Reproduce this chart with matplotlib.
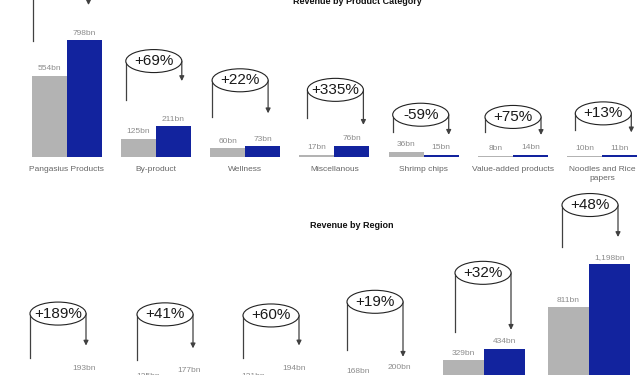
# Revenue by product category and by region, previous vs current year

import matplotlib.pyplot as plt
from matplotlib.patches import Ellipse

plt.rcParams['font.family'] = ['Liberation Sans', 'DejaVu Sans']

# Revenue by product category (bn)
categories = ['Pangasius Products', 'By-product', 'Wellness', 'Miscellanous',
              'Shrimp chips', 'Value-added products', 'Noodles and Rice\npapers']
prev_cat = [554, 125, 60, 17, 36, 8, 10]
curr_cat = [798, 211, 73, 76, 15, 14, 11]
change_cat = ['+44%', '+69%', '+22%', '+335%', '-59%', '+75%', '+13%']

# Revenue by region (bn), region names fall below the picture
prev_reg = [67, 125, 121, 168, 329, 811]
curr_reg = [193, 177, 194, 200, 434, 1198]
change_reg = ['+189%', '+41%', '+60%', '+19%', '+32%', '+48%']

GREY = '#b3b3b3'
BLUE = '#12239e'
LINE = '#404040'

W, H = 640, 375


# Pixel layout of each panel
top_panel = dict(base=157, ppb=0.1466, first=66.5, step=89.3, bar=35, top=0)
bottom_panel = dict(base=397, ppb=0.111, first=64, step=105, bar=41, top=215)

# Hand placed callouts (pixels): lift above taller bar, gaps above bars, x shift
top_notes = dict(lift=[60, 65, 66, 56, 37, 38, 42],
                 left_gap=[35, 39, 31, 37, 20, 24, 26],
                 arrow_gap=[35, 45, 33, 21, 20, 20, 23],
                 shift=[-6, -2, -5, 1, -3, 0, 1])
bottom_notes = dict(lift=[62, 63, 60, 73, 76, 59],
                    left_gap=[32, 23, 26, 28, 28, 60],
                    arrow_gap=[30, 29, 30, 18, 19, 27],
                    shift=[-6, -4, -3, -4, -1, 1])


def make_axes(fig, p):
    ax = fig.add_axes([0, (H - p['base']) / H, 1, (p['base'] - p['top']) / H])
    ax.set_xlim(-p['first'] / p['step'], (W - p['first']) / p['step'])
    ax.set_ylim(0, (p['base'] - p['top']) / p['ppb'])
    ax.axis('off')
    return ax


# Draws the paired bars, value labels and the change callouts
def draw_panel(ax, p, notes, prev, curr, change, labels=None):
    bw = p['bar'] / p['step']
    xs = list(range(len(prev)))
    ax.bar([x - bw / 2 for x in xs], prev, width=bw, color=GREY, clip_on=False)
    ax.bar([x + bw / 2 for x in xs], curr, width=bw, color=BLUE, clip_on=False)

    for x, a, b in zip(xs, prev, curr):
        for xx, v in ((x - bw / 2, a), (x + bw / 2, b)):
            ax.annotate(f'{v:,}bn', (xx, v), xytext=(0, 2.5), textcoords='offset points',
                        ha='center', va='bottom', fontsize=6, color='#8c8c8c',
                        annotation_clip=False)

    if labels:
        for x, lab in zip(xs, labels):
            ax.annotate(lab, (x, 0), xytext=(0, -6.5), textcoords='offset points',
                        ha='center', va='top', fontsize=6, color='#666666',
                        linespacing=1.3, annotation_clip=False)

    px_x = 1 / p['step']
    px_y = 1 / p['ppb']
    ew, eh = 56 * px_x, 23 * px_y
    for i, x in enumerate(xs):
        xc = x + notes['shift'][i] * px_x
        yc = max(prev[i], curr[i]) + notes['lift'][i] * px_y
        left_end = prev[i] + notes['left_gap'][i] * px_y
        tip = curr[i] + notes['arrow_gap'][i] * px_y

        ax.plot([xc - ew / 2, xc - ew / 2], [yc, left_end], color=LINE, lw=0.9,
                clip_on=False, zorder=3)
        ax.annotate('', xy=(xc + ew / 2, tip), xytext=(xc + ew / 2, yc),
                    arrowprops=dict(arrowstyle='-|>', color=LINE, lw=0.9,
                                    mutation_scale=7, shrinkA=0, shrinkB=0),
                    annotation_clip=False, zorder=3)
        ax.add_patch(Ellipse((xc, yc), ew, eh, facecolor='white', edgecolor='#222222',
                             lw=0.8, clip_on=False, zorder=4))
        ax.text(xc, yc, change[i], ha='center', va='center', fontsize=11,
                color='#1a1a1a', zorder=5, clip_on=False)


fig = plt.figure(figsize=(W / 100, H / 100), dpi=100)

ax_top = make_axes(fig, top_panel)
draw_panel(ax_top, top_panel, top_notes, prev_cat, curr_cat, change_cat, categories)

ax_bottom = make_axes(fig, bottom_panel)
draw_panel(ax_bottom, bottom_panel, bottom_notes, prev_reg, curr_reg, change_reg)

fig.text(357 / W, 1 - 1 / H, 'Revenue by Product Category', ha='center', va='center',
         fontsize=6.5, fontweight='bold', color='#111111')
fig.text(352 / W, 1 - 225 / H, 'Revenue by Region', ha='center', va='center',
         fontsize=6.5, fontweight='bold', color='#111111')

fig.savefig('out.png', dpi=100)
